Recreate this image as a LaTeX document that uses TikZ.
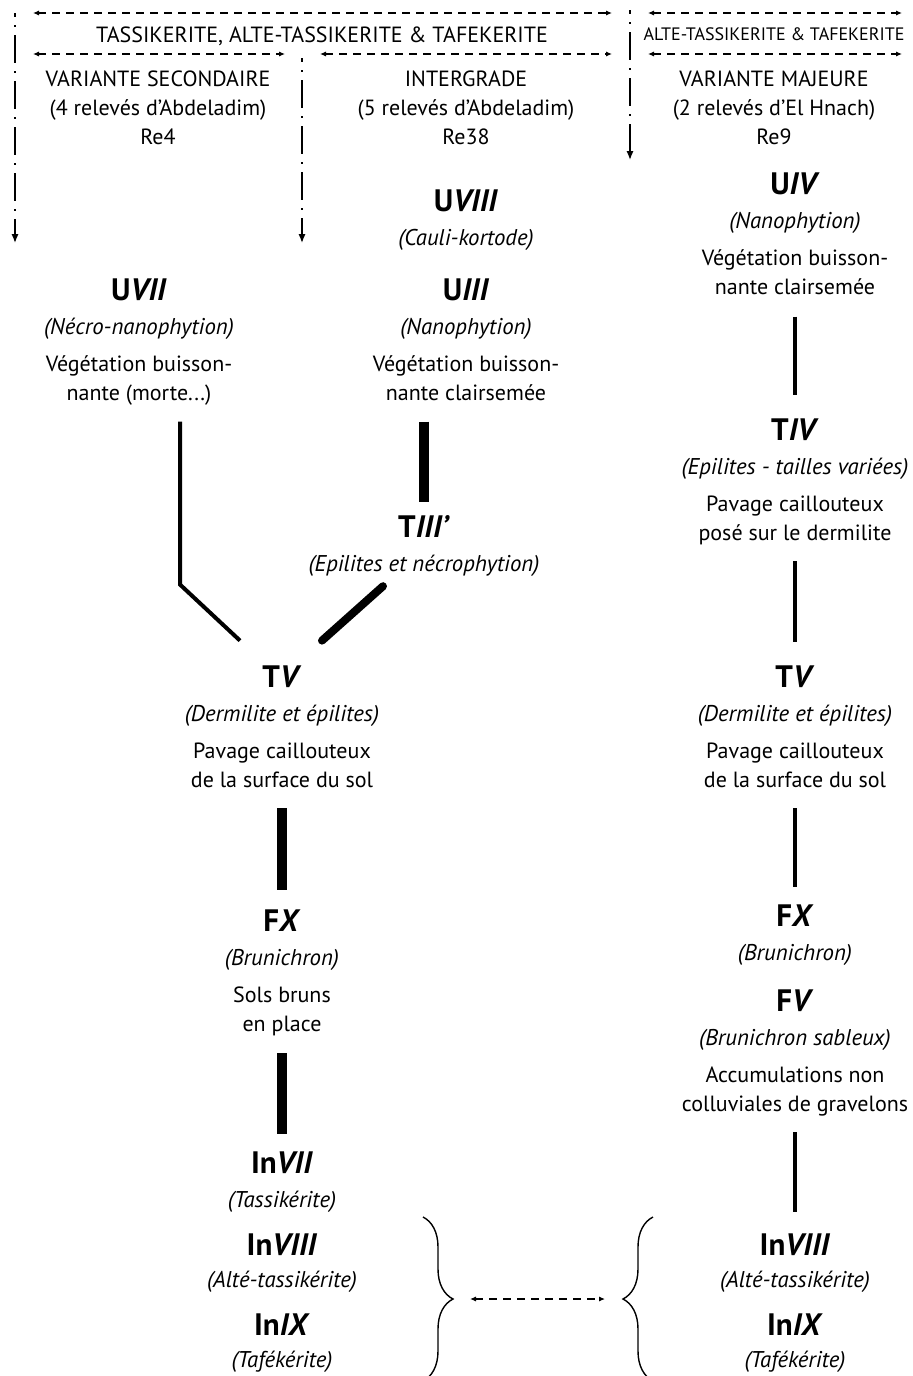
\documentclass[tikz,border=0pt]{standalone}
\usepackage{fontspec}
\setmainfont{PT Sans}
\usetikzlibrary{positioning, arrows.meta, calc, decorations.pathreplacing}

\begin{document}
\begin{tikzpicture}[
    x=0.5pt, y=-0.5pt,
    >={Latex[length=3pt,width=2.6pt]},
    txt/.style={
        inner sep=0pt, align=center, font=\fontsize{11}{14.5}\selectfont,
        execute at begin node=\strut, execute at end node=\strut
    },
    sub/.style={txt, font=\itshape\fontsize{11.4}{14.5}\selectfont},
    ttl/.style={
        inner sep=0pt, font=\bfseries\fontsize{15.5}{18}\selectfont,
        execute at begin node=\strut
    },
    smallcap/.style={txt, font=\fontsize{9}{11}\selectfont},
    span/.style={<->, dash pattern=on 4pt off 3pt, line width=0.6pt},
    drop/.style={-{Latex[length=4.5pt,width=3.6pt]}, line width=0.7pt,
        dash pattern=on 14pt off 4pt on 1pt off 4pt, dash phase=12pt},
    link/.style={line width=2pt, shorten <=8pt, shorten >=9pt},
    heavy/.style={line width=5pt, shorten <=8pt, shorten >=7pt},
    brace/.style={decorate, decoration={brace, amplitude=15pt}, line width=0.7pt}
]
\useasboundingbox (0,0) rectangle (913,1376);

%% ---- Header ----
\node[txt] (bnr-all) at (322,37) {TASSIKERITE, ALTE-TASSIKERITE \& TAFEKERITE};
\node[smallcap] (bnr-maj) at (774,36) {ALTE-TASSIKERITE \& TAFEKERITE};

\node[txt] (hsec) at (158,112) {VARIANTE SECONDAIRE\\(4 relevés d'Abdeladim)\\Re4};
\node[txt] (hint) at (466,112) {INTERGRADE\\(5 relevés d'Abdeladim)\\Re38};
\node[txt] (hmaj) at (774,112) {VARIANTE MAJEURE\\(2 relevés d'El Hnach)\\Re9};

% span ends
\coordinate (all-w) at (33,13);   \coordinate (all-e) at (612,13);
\coordinate (sec-w) at (33,54);   \coordinate (sec-e) at (285,54);
\coordinate (int-w) at (320,54);  \coordinate (int-e) at (612,54);
\coordinate (majt-w) at (648,13); \coordinate (majt-e) at (902,13);
\coordinate (maj-w) at (648,54);  \coordinate (maj-e) at (902,54);

\draw[span] (all-w) -- (all-e);
\draw[span] (sec-w) -- (sec-e);
\draw[span] (int-w) -- (int-e);
\draw[span] (majt-w) -- (majt-e);
\draw[span] (maj-w) -- (maj-e);

% vertical separators
\coordinate (sepl-n) at (15,13);   \coordinate (sepl-s) at (15,243);
\coordinate (sepm-n) at (302,58);  \coordinate (sepm-s) at (302,243);
\coordinate (sepr-n) at (630,10);  \coordinate (sepr-s) at (630,160);

\draw[drop] (sepl-n) -- (sepl-s);
\draw[drop] (sepm-n) -- (sepm-s);
\draw[drop] (sepr-n) -- (sepr-s);

%% ---- Variante secondaire ----
\node[ttl] (uvii) at (139,293) {U\textit{VII}};
\node[sub, below=1pt of uvii] (uvii-s) {(Nécro-nanophytion)};
\node[txt, below=6pt of uvii-s] (uvii-d) {Végétation buisson-\\nante (morte...)};

%% ---- Intergrade ----
\node[ttl] (uviii) at (466,204) {U\textit{VIII}};
\node[sub, below=1pt of uviii] (uviii-s) {(Cauli-kortode)};

\node[ttl] (uiii) at (466,293) {U\textit{III}};
\node[sub, below=1pt of uiii] (uiii-s) {(Nanophytion)};
\node[txt, below=6pt of uiii-s] (uiii-d) {Végétation buisson-\\nante clairsemée};

\node[ttl] (tiii) at (424,530) {T\textit{III'}};
\node[sub, below=1pt of tiii] (tiii-s) {(Epilites et nécrophytion)};

%% ---- Common trunk ----
\node[ttl] (tvl) at (282,680) {T\textit{V}};
\node[sub, below=1pt of tvl] (tvl-s) {(Dermilite et épilites)};
\node[txt, below=6pt of tvl-s] (tvl-d) {Pavage caillouteux\\de la surface du sol};

\node[ttl] (fxl) at (282,924) {F\textit{X}};
\node[sub, below=1pt of fxl] (fxl-s) {(Brunichron)};
\node[txt, below=6pt of fxl-s] (fxl-d) {Sols bruns\\en place};

\node[ttl] (invii) at (282,1166) {In\textit{VII}};
\node[sub, below=1pt of invii] (invii-s) {(Tassikérite)};

\node[ttl] (inviiil) at (282,1248) {In\textit{VIII}};
\node[sub, below=0pt of inviiil] (inviiil-s) {(Alté-tassikérite)};

\node[ttl] (inixl) at (282,1328) {In\textit{IX}};
\node[sub, below=0pt of inixl] (inixl-s) {(Tafékérite)};

% branches into TV
\draw[link, shorten <=0pt, shorten >=0pt] ([xshift=20.5pt,yshift=-6pt]uvii-d.south) -- ++(0,163)
    -- ([xshift=-21pt,yshift=10.5pt]tvl.north);
\draw[heavy, shorten <=0pt, shorten >=0pt] ([yshift=-6pt]uiii-d.south -| tiii.north) -- ([yshift=5pt]tiii.north);
\draw[line width=4pt, line cap=round] ([xshift=-20.5pt,yshift=-3pt]tiii-s.south)
    -- ([xshift=20pt,yshift=10.5pt]tvl.north);

\draw[heavy, shorten <=6pt, shorten >=8pt] (tvl-d) -- (fxl);
\draw[heavy, shorten <=6.5pt, shorten >=7pt] (fxl-d) -- (invii);

%% ---- Variante majeure ----
\node[ttl] (uiv) at (795,187) {U\textit{IV}};
\node[sub, below=1pt of uiv] (uiv-s) {(Nanophytion)};
\node[txt, below=6pt of uiv-s] (uiv-d) {Végétation buisson-\\nante clairsemée};

\node[ttl] (tiv) at (795,433) {T\textit{IV}};
\node[sub, below=1pt of tiv] (tiv-s) {(Epilites - tailles variées)};
\node[txt, below=6pt of tiv-s] (tiv-d) {Pavage caillouteux\\posé sur le dermilite};

\node[ttl] (tvr) at (795,680) {T\textit{V}};
\node[sub, below=1pt of tvr] (tvr-s) {(Dermilite et épilites)};
\node[txt, below=6pt of tvr-s] (tvr-d) {Pavage caillouteux\\de la surface du sol};

\node[ttl] (fxr) at (795,919) {F\textit{X}};
\node[sub, below=1pt of fxr] (fxr-s) {(Brunichron)};

\node[ttl] (fv) at (795,1004) {F\textit{V}};
\node[sub, below=1pt of fv] (fv-s) {(Brunichron sableux)};
\node[txt, below=6pt of fv-s] (fv-d) {Accumulations non\\colluviales de gravelons};

\node[ttl] (inviiir) at (795,1248) {In\textit{VIII}};
\node[sub, below=0pt of inviiir] (inviiir-s) {(Alté-tassikérite)};

\node[ttl] (inixr) at (795,1328) {In\textit{IX}};
\node[sub, below=0pt of inixr] (inixr-s) {(Tafékérite)};

\draw[link, shorten <=6.5pt, shorten >=10pt] (uiv-d) -- (tiv);
\draw[link, shorten <=6pt, shorten >=10pt] (tiv-d) -- (tvr);
\draw[link, shorten <=6pt, shorten >=7pt] (tvr-d) -- (fxr);
\draw[link, shorten <=6pt, shorten >=9pt] (fv-d) -- (inviiir);

%% ---- Equivalence braces ----
\coordinate (brl-n) at (423,1217); \coordinate (brl-s) at (423,1381);
\coordinate (brr-n) at (653,1217); \coordinate (brr-s) at (653,1381);
\draw[brace] (brl-n) -- (brl-s);
\draw[brace] (brr-s) -- (brr-n);

\coordinate (eq-w) at (470,1299); \coordinate (eq-e) at (605,1299);
\draw[span] (eq-w) -- (eq-e);

\end{tikzpicture}
\end{document}
